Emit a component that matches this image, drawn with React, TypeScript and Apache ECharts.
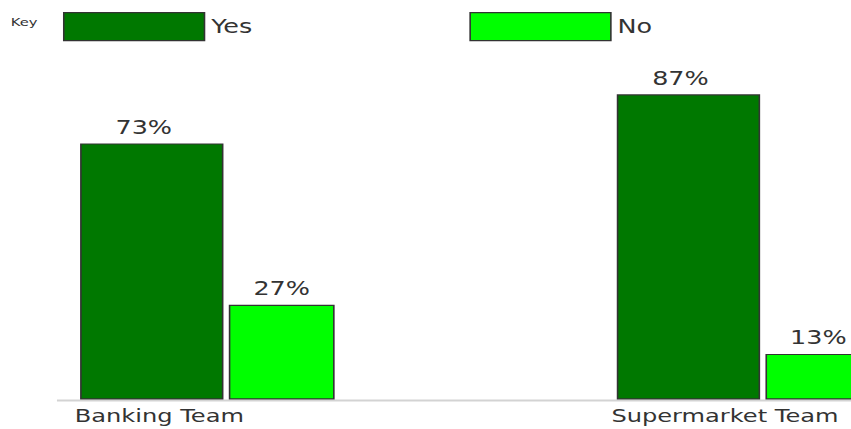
import React, { useEffect, useRef } from "react";
import * as echarts from "echarts";

const categories = ["Banking Team", "Supermarket Team"];
const yesValues = [73, 87];
const noValues = [27, 13];
const seriesNames = ["Yes", "No"];

const FONT = "DejaVu Sans";
const TEXT = "#333";

export default function App() {
  const ref = useRef<HTMLDivElement>(null);
  useEffect(() => {
    if (!ref.current) return;
    const chart = echarts.init(ref.current, null, { renderer: "svg" });
    chart.setOption({
      animation: false,
      title: {
        text: "Key",
        left: 8,
        top: 17,
        padding: 0,
        textStyle: { fontFamily: FONT, fontSize: 11, fontWeight: "normal", color: TEXT },
      },
      legend: {
        data: seriesNames,
        left: 47,
        top: 12,
        padding: 0,
        icon: "rect",
        itemWidth: 105,
        itemHeight: 28,
        itemGap: 162,
        itemStyle: { borderColor: "#333", borderWidth: 1.2 },
        textStyle: { fontFamily: FONT, fontSize: 19, color: TEXT },
      },
      grid: {
        left: -45.5,
        width: 801,
        top: 48.7,
        bottom: 29.5,
        containLabel: false,
        outerBoundsMode: "none",
      },
      xAxis: {
        type: "category",
        data: categories,
        axisLine: { show: false },
        axisTick: { show: false },
        axisLabel: {
          interval: 0,
          margin: 7,
          formatter: (v: string) => `{a|${v}}`,
          rich: {
            a: { width: 198, align: "left", fontFamily: FONT, fontSize: 18, color: TEXT },
          },
        },
      },
      yAxis: { type: "value", min: 0, max: 100, show: false },
      graphic: [
        {
          type: "line",
          shape: { x1: 42.5, y1: 400.5, x2: 640, y2: 400.5 },
          style: { stroke: "#d3d3d3", lineWidth: 2 },
          z: 0,
        },
      ],
      series: [
        {
          name: seriesNames[0],
          type: "bar",
          data: yesValues,
          barWidth: 107,
          barGap: "3.7%",
          itemStyle: { color: "#007800", borderColor: "#333", borderWidth: 1.2 },
          label: {
            show: true,
            position: "top",
            distance: 7,
            offset: [-6, 0],
            formatter: (p: any) => `${p.value}%`,
            fontFamily: FONT,
            fontSize: 19,
            color: TEXT,
          },
        },
        {
          name: seriesNames[1],
          type: "bar",
          data: noValues,
          barWidth: 79,
          barGap: "3.7%",
          itemStyle: { color: "#00ff00", borderColor: "#333", borderWidth: 1.2 },
          label: {
            show: true,
            position: "top",
            distance: 7,
            formatter: (p: any) => `${p.value}%`,
            fontFamily: FONT,
            fontSize: 19,
            color: TEXT,
          },
        },
      ],
    });
    return () => chart.dispose();
  }, []);
  return (
    <div
      style={{
        position: "absolute",
        left: 0,
        top: 0,
        width: 851,
        height: 429,
        overflow: "hidden",
        background: "#fff",
      }}
    >
      <div
        ref={ref}
        style={{
          width: 635,
          height: 429,
          transform: "scaleX(1.34)",
          transformOrigin: "0 0",
        }}
      />
    </div>
  );
}
